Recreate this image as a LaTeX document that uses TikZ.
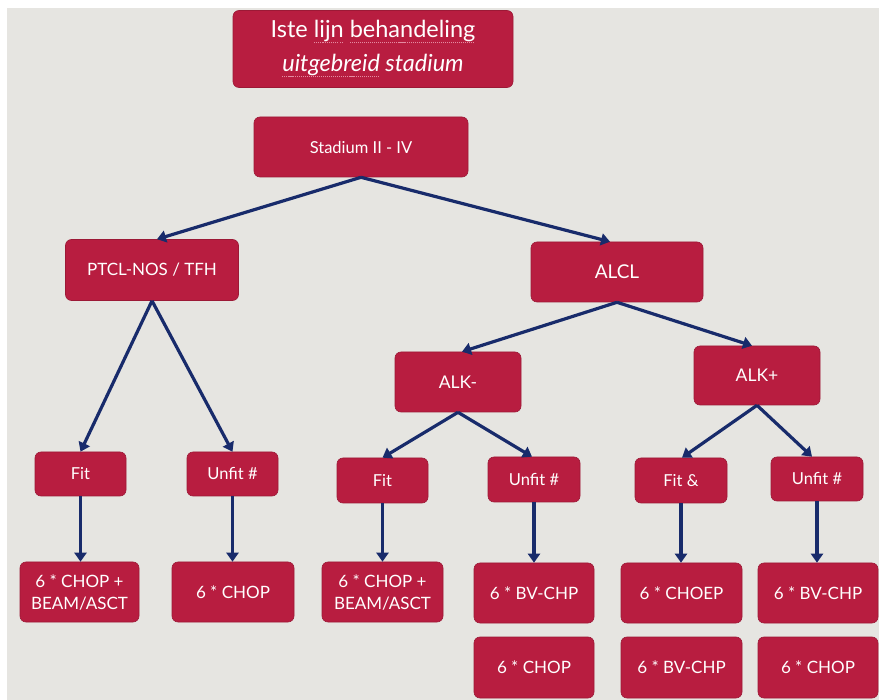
\documentclass[tikz,border=0pt]{standalone}
\usepackage{fontspec}
\setmainfont{Lato}
\usetikzlibrary{arrows.meta}
\definecolor{bg}{HTML}{E6E5E1}
\definecolor{boxred}{HTML}{B81D40}
\definecolor{navy}{HTML}{182B6B}
\definecolor{squig}{HTML}{E58AA0}
\newsavebox\spellbox
\newcommand\spellmark[1]{\sbox\spellbox{#1}\leavevmode\rlap{\raisebox{-0.24em}{\color{squig}\hbox to\wd\spellbox{\xleaders\hbox{\rule{1.1pt}{1.1pt}\kern0.9pt}\hfil}}}\usebox\spellbox}
\begin{document}
\begin{tikzpicture}[x=1pt,y=-1pt,
  box/.style={draw=boxred!85!black, line width=0.6pt, fill=boxred, rounded corners=6pt,
    text=white, align=center, inner sep=0pt, font=\fontsize{17}{19}\selectfont},
  small/.style={font=\fontsize{16.5}{18}\selectfont},
  big/.style={font=\fontsize{17}{22}\selectfont},
  arr/.style={draw=navy, line width=3.2pt, -{Triangle[length=9pt,width=12pt]}}]
\useasboundingbox (0,0) rectangle (879,700);
\fill[white] (0,0) rectangle (879,700);
\fill[bg] (7,8) rectangle (879,700);

% title
\node[box, minimum width=280pt, minimum height=77pt, font=\fontsize{23.5}{34}\selectfont] (title) at (373,49)
  {Iste \spellmark{lijn} \spellmark{behandeling}\\\itshape \spellmark{uitgebreid} stadium};

% level 1
\node[box, font=\fontsize{16.5}{18}\selectfont, minimum width=214pt, minimum height=60pt] (stad) at (361,147) {Stadium II - IV};

% level 2
\node[box, minimum width=173pt, minimum height=61pt] (ptcl) at (152,270) {PTCL-NOS / TFH};
\node[box, font=\fontsize{19}{21}\selectfont, minimum width=172pt, minimum height=60pt] (alcl) at (617,272) {ALCL};

% level 3
\node[box, font=\fontsize{17.5}{19}\selectfont, minimum width=126pt, minimum height=60pt] (alkm) at (458,382) {ALK-};
\node[box, font=\fontsize{17.5}{19}\selectfont, minimum width=126pt, minimum height=59pt] (alkp) at (757,375.5) {ALK+};

% level 4
\node[box, small, minimum width=91pt, minimum height=44pt] (fit1) at (80.5,474) {Fit};
\node[box, small, minimum width=91pt, minimum height=44pt] (unf1) at (232.5,474) {Unfit \#};
\node[box, small, minimum width=91pt, minimum height=45pt] (fit2) at (382.5,480.5) {Fit};
\node[box, small, minimum width=92pt, minimum height=45pt] (unf2) at (534,479.5) {Unfit \#};
\node[box, small, minimum width=92pt, minimum height=45pt] (fit3) at (681,480.5) {Fit \&};
\node[box, small, minimum width=92pt, minimum height=44pt] (unf3) at (817,479) {Unfit \#};

% treatments row 1
\node[box, big, minimum width=119pt, minimum height=60pt] (t1) at (79.5,592) {6 * CHOP +\\BEAM/ASCT};
\node[box, big, minimum width=122pt, minimum height=60pt] (t2) at (233,592) {6 * CHOP};
\node[box, big, minimum width=121pt, minimum height=60pt] (t3) at (382.5,592) {6 * CHOP +\\BEAM/ASCT};
\node[box, big, minimum width=120pt, minimum height=60pt] (t4) at (534,593) {6 * BV-CHP};
\node[box, big, minimum width=121pt, minimum height=60pt] (t5) at (681.5,593) {6 * CHOEP};
\node[box, big, minimum width=120pt, minimum height=60pt] (t6) at (818,593) {6 * BV-CHP};

% treatments row 2
\node[box, big, minimum width=120pt, minimum height=61pt] (u4) at (534,667.5) {6 * CHOP};
\node[box, big, minimum width=121pt, minimum height=61pt] (u5) at (681.5,667.5) {6 * BV-CHP};
\node[box, big, minimum width=120pt, minimum height=61pt] (u6) at (818,667.5) {6 * CHOP};

% connectors
\draw[arr] (stad.south) -- ([xshift=5pt]ptcl.north);
\draw[arr] (stad.south) -- ([xshift=-7pt]alcl.north);
\draw[arr] (ptcl.south) -- (fit1.north);
\draw[arr] (ptcl.south) -- (unf1.north);
\draw[arr] (alcl.south) -- ([xshift=4pt]alkm.north);
\draw[arr] (alcl.south) -- ([xshift=-5pt]alkp.north);
\draw[arr] (alkm.south) -- (fit2.north);
\draw[arr] (alkm.south) -- ([xshift=-2pt]unf2.north);
\draw[arr] (alkp.south) -- ([xshift=1pt]fit3.north);
\draw[arr] (alkp.south) -- ([xshift=-5pt]unf3.north);
\draw[arr] (fit1.south) -- (fit1.south |- t1.north);
\draw[arr] (unf1.south) -- (unf1.south |- t2.north);
\draw[arr] (fit2.south) -- (fit2.south |- t3.north);
\draw[arr] (unf2.south) -- (unf2.south |- t4.north);
\draw[arr] (fit3.south) -- (fit3.south |- t5.north);
\draw[arr] (unf3.south) -- (unf3.south |- t6.north);
\end{tikzpicture}
\end{document}
